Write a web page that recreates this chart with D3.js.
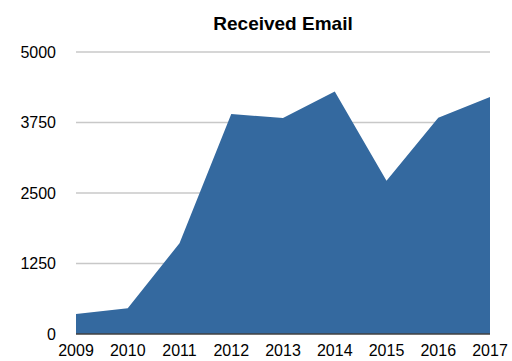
<!DOCTYPE html>
<html>
<head>
<meta charset="utf-8">
<script src="https://cdn.jsdelivr.net/npm/d3@7.9.0/dist/d3.min.js"></script>
<style>
  body { margin: 0; background: #fff; }
  text { font-family: "Liberation Sans", Arial, sans-serif; fill: #000; }
</style>
</head>
<body>
<svg id="chart" width="512" height="361"></svg>
<script>
const years = [2009, 2010, 2011, 2012, 2013, 2014, 2015, 2016, 2017];
const received = [355, 455, 1610, 3900, 3830, 4300, 2715, 3835, 4200];
const yTicks = [0, 1250, 2500, 3750, 5000];

const margin = { top: 52, right: 22, bottom: 27, left: 76 };
const width = 512, height = 361;

const svg = d3.select('#chart');

const x = d3.scalePoint()
  .domain(years)
  .range([margin.left, width - margin.right]);

const y = d3.scaleLinear()
  .domain([0, 5000])
  .range([height - margin.bottom, margin.top]);

// gridlines
svg.append('g')
  .selectAll('line')
  .data(yTicks.filter((d) => d > 0))
  .join('line')
  .attr('x1', margin.left)
  .attr('x2', width - margin.right)
  .attr('y1', (d) => y(d))
  .attr('y2', (d) => y(d))
  .attr('stroke', '#c8c8c8')
  .attr('stroke-width', 1.5);

const data = years.map((yr, i) => ({ year: yr, value: received[i] }));

const area = d3.area()
  .x((d) => x(d.year))
  .y0(y(0))
  .y1((d) => y(d.value));

svg.append('path')
  .datum(data)
  .attr('d', area)
  .attr('fill', '#34699f');

// baseline
svg.append('line')
  .attr('x1', margin.left)
  .attr('x2', width - margin.right)
  .attr('y1', y(0))
  .attr('y2', y(0))
  .attr('stroke', '#404040')
  .attr('stroke-width', 1.5);

// y labels
svg.append('g')
  .selectAll('text')
  .data(yTicks)
  .join('text')
  .attr('x', 56)
  .attr('y', (d) => y(d))
  .attr('dy', '0.35em')
  .attr('text-anchor', 'end')
  .attr('font-size', 16)
  .text((d) => d);

// x labels
svg.append('g')
  .selectAll('text')
  .data(years)
  .join('text')
  .attr('x', (d) => x(d))
  .attr('y', 356)
  .attr('text-anchor', 'middle')
  .attr('font-size', 16)
  .text((d) => d);

svg.append('text')
  .attr('x', (margin.left + width - margin.right) / 2)
  .attr('y', 30)
  .attr('text-anchor', 'middle')
  .attr('font-size', 19)
  .attr('font-weight', 'bold')
  .text('Received Email');
</script>
</body>
</html>
